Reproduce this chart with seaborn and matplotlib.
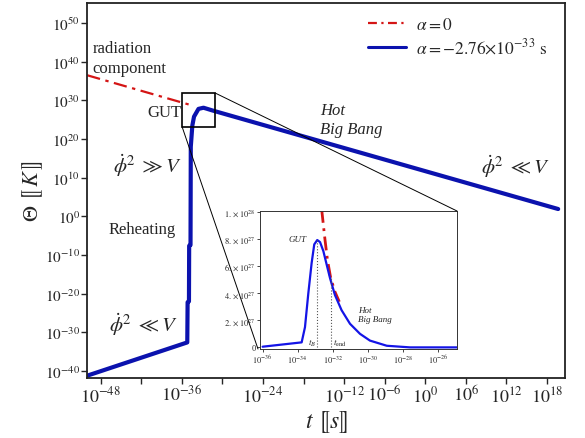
import numpy as np
import matplotlib
matplotlib.use('Agg')
import matplotlib.pyplot as plt
import seaborn as sns
from matplotlib.patches import Rectangle, ConnectionPatch
from matplotlib.lines import Line2D

# main panel, values as log10(t [s]) and log10(Theta [K])
blue_log_t = [-50.0, -35.2, -35.15, -34.95, -34.92, -34.72, -34.68, -34.45, -34.2, -33.54, -32.8, -31.3, 19.65]
blue_log_T = [-41.2, -32.6, -22.2, -22.0, -7.6, -7.4, 18.0, 23.5, 25.8, 27.8, 28.1, 27.3, 1.9]
red_log_t = [-50.0, -34.4]
red_log_T = [36.5, 28.65]

# zoom box on the main panel (log10 units)
box_log_t = [-35.95, -31.07]
box_log_T = [23.1, 31.9]

# inset, log10(t) and Theta in units of 1e27 K
inset_blue_log_t = [-36.0, -33.77, -33.58, -33.39, -33.20, -33.05, -32.88, -32.72, -32.53, -32.34,
                    -32.15, -31.87, -31.49, -31.01, -30.44, -29.87, -28.91, -27.58, -24.9]
inset_blue_T = [0.05, 0.37, 1.49, 3.98, 6.22, 7.59, 7.91, 7.76, 7.09, 6.09,
                5.10, 3.86, 2.74, 1.74, 1.00, 0.50, 0.12, 0.0, 0.0]
inset_red_log_t = [-32.63, -32.44, -32.30, -32.11, -31.87, -31.62]
inset_red_T = [10.2, 7.96, 6.47, 5.10, 4.10, 3.36]
t_B = -32.88
t_end = -32.11
T_at_tB = 7.91
T_at_tend = 5.10

main_xticks = [-48, -42, -36, -30, -24, -18, -12, -6, 0, 6, 12, 18]
main_xlabels = ['-48', '', '-36', '', '-24', '', '-12', '-6', '0', '6', '12', '18']
main_yticks = [-40, -30, -20, -10, 0, 10, 20, 30, 40, 50]
inset_xticks = [-36, -34, -32, -30, -28, -26]
inset_yticks = [0, 2, 4, 6, 8, 10]
inset_ylabels = ['0', '2', '4', '6', '8', '1']

sns.set_style('ticks')
plt.rcParams['font.family'] = ['Liberation Serif', 'DejaVu Serif', 'DejaVu Sans']
plt.rcParams['mathtext.fontset'] = 'stix'

dark_blue = '#0b12ae'
red = '#d41515'

fig = plt.figure(figsize=(5.85, 4.39), dpi=100)
ax = fig.add_axes([0.1487, 0.1367, 0.8171, 0.8543])

sns.lineplot(x=10.0 ** np.array(red_log_t), y=10.0 ** np.array(red_log_T), ax=ax,
             sort=False, estimator=None, color=red, lw=1.6, linestyle=(0, (6, 2.5, 1.5, 2.5)))
sns.lineplot(x=10.0 ** np.array(blue_log_t), y=10.0 ** np.array(blue_log_T), ax=ax,
             sort=False, estimator=None, color=dark_blue, lw=3.0)
ax.set_xscale('log')
ax.set_yscale('log')
ax.set_xlim(10.0 ** -50.03, 10.0 ** 20.66)
ax.set_ylim(10.0 ** -41.8, 10.0 ** 55.2)

ax.set_xticks([10.0 ** e for e in main_xticks])
ax.set_xticklabels(['' if s == '' else r'$10^{%s}$' % s for s in main_xlabels], fontsize=13)
ax.set_yticks([10.0 ** e for e in main_yticks])
ax.set_yticklabels([r'$10^{%d}$' % e for e in main_yticks], fontsize=11)
ax.minorticks_off()
ax.tick_params(direction='out', length=4, width=1.0, pad=1)
for s in ax.spines.values():
    s.set_linewidth(1.3)
    s.set_color('#222222')

ax.set_xlabel(r'$\mathbf{\mathit{t}}\ ⟦\mathit{s}⟧$', fontsize=17, labelpad=2)
ax.set_ylabel(r'$\mathit{\Theta}\ ⟦\,\mathit{K}\,⟧$', fontsize=16, labelpad=0)

# zoom box
ax.add_patch(Rectangle((10.0 ** box_log_t[0], 10.0 ** box_log_T[0]),
                       10.0 ** box_log_t[1] - 10.0 ** box_log_t[0],
                       10.0 ** box_log_T[1] - 10.0 ** box_log_T[0],
                       fill=False, ec='black', lw=1.2, zorder=5))

# annotations
ax.text(10.0 ** -49.2, 10.0 ** 41.0, 'radiation\ncomponent', fontsize=12, va='center', ha='left', linespacing=1.3)
ax.text(10.0 ** -36.1, 10.0 ** 26.9, 'GUT', fontsize=12, va='center', ha='right')
ax.text(10.0 ** -46.2, 10.0 ** 13.3, r'$\dot{\phi}^{2}\ \gg V$', fontsize=15, va='center', ha='left')
ax.text(10.0 ** -46.8, 10.0 ** -3.2, 'Reheating', fontsize=12, va='center', ha='left')
ax.text(10.0 ** -46.8, 10.0 ** -27.8, r'$\dot{\phi}^{2}\ \ll V$', fontsize=15, va='center', ha='left')
ax.text(10.0 ** 8.3, 10.0 ** 13.2, r'$\dot{\phi}^{2}\ \ll V$', fontsize=15, va='center', ha='left')
ax.text(10.0 ** -15.6, 10.0 ** 25.1, 'Hot\nBig Bang', fontsize=12, style='italic', va='center', ha='left',
        linespacing=1.3)

handles = [Line2D([], [], color=red, lw=1.6, linestyle=(0, (4, 2, 1, 2))),
           Line2D([], [], color=dark_blue, lw=2.2)]
ax.legend(handles, [r'$\alpha = 0$', r'$\alpha = -2.76{\times}10^{-33}\ \mathrm{s}$'],
          loc='upper right', bbox_to_anchor=(0.985, 0.99), frameon=False, fontsize=12.5,
          handlelength=2.2, handletextpad=0.6, labelspacing=0.2, borderaxespad=0.2)

# inset
axin = fig.add_axes([0.4444, 0.2027, 0.3368, 0.3144])
sns.lineplot(x=10.0 ** np.array(inset_red_log_t), y=np.array(inset_red_T) * 1e27, ax=axin,
             sort=False, estimator=None, color=red, lw=2.0, linestyle=(0, (5, 2, 1, 2)))
sns.lineplot(x=10.0 ** np.array(inset_blue_log_t), y=np.array(inset_blue_T) * 1e27, ax=axin,
             sort=False, estimator=None, color='#1414e6', lw=1.6)
axin.set_xscale('log')
axin.set_xlim(10.0 ** -36.15, 10.0 ** -24.9)
axin.set_ylim(-0.12e27, 10.05e27)
axin.vlines([10.0 ** t_B, 10.0 ** t_end], 0, [T_at_tB * 1e27, T_at_tend * 1e27],
            colors='#555555', linestyles=':', lw=0.8)
axin.set_xticks([10.0 ** e for e in inset_xticks])
axin.set_xticklabels([r'$10^{%d}$' % e for e in inset_xticks], fontsize=6)
axin.set_yticks([v * 1e27 for v in inset_yticks])
ylab = []
for v, s in zip(inset_yticks, inset_ylabels):
    if v == 0:
        ylab.append('0')
    elif v == 10:
        ylab.append(r'$1.\times10^{28}$')
    else:
        ylab.append(r'$%s.\times10^{27}$' % s)
axin.set_yticklabels(ylab, fontsize=6)
axin.minorticks_off()
axin.tick_params(direction='out', length=2, width=0.6, pad=1)
for s in axin.spines.values():
    s.set_linewidth(0.7)
    s.set_color('#333333')
axin.set_xlabel('')
axin.set_ylabel('')
axin.text(10.0 ** -34.0, 7.96e27, 'GUT', fontsize=6.5, style='italic', va='center', ha='center')
axin.text(10.0 ** -30.55, 2.4e27, 'Hot\nBig Bang', fontsize=6.5, style='italic', va='center', ha='left')
axin.text(10.0 ** -32.95, 0.4e27, r'$t_{B}$', fontsize=6.5, va='center', ha='right')
axin.text(10.0 ** -32.0, 0.4e27, r'$t_{\mathrm{end}}$', fontsize=6.5, va='center', ha='left')

# connector lines from the zoom box to the inset
for xy_main, xy_in in [((10.0 ** box_log_t[1], 10.0 ** box_log_T[1]), (1.0, 1.0)),
                       ((10.0 ** box_log_t[0], 10.0 ** box_log_T[0]), (-0.01, 0.0))]:
    con = ConnectionPatch(xyA=xy_main, coordsA=ax.transData, xyB=xy_in, coordsB=axin.transAxes,
                          color='black', lw=0.7)
    fig.add_artist(con)

fig.savefig('out.png', dpi=100)
